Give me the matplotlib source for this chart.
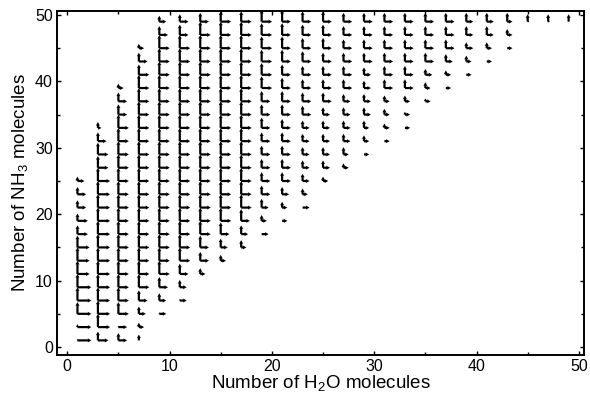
# grid of small L-shaped arm glyphs over cluster composition (H2O, NH3)

import numpy as np
import matplotlib.pyplot as plt
from matplotlib.ticker import MultipleLocator

plt.rcParams['font.family'] = ['Liberation Sans', 'DejaVu Sans']
plt.rcParams['mathtext.fontset'] = 'custom'
plt.rcParams['mathtext.rm'] = 'Liberation Sans'

# number of H2O molecules for each column of glyphs
n_h2o = [1, 3, 5, 7, 9, 11, 13, 15, 17, 19, 21, 23, 25,
         27, 29, 31, 33, 35, 37, 39, 41, 43, 45, 47, 49]
# lowest number of NH3 molecules present in each column
n_nh3_low = [1, 1, 1, 1, 5, 7, 11, 13, 15, 17, 19, 21, 25,
             27, 29, 31, 33, 37, 39, 41, 43, 45, 49, 49, 49]

# arm lengths, one digit per glyph (NH3 = low, low+2, ...)
vert_arm = [
    "1289999865553",
    "69999999999998864",
    "518" + "9" * 14 + "763",
    "4357" + "9" * 16 + "763",
    "157" + "9" * 18 + "64",
    "157" + "9" * 17 + "75",
    "468" + "9" * 16 + "6",
    "468" + "9" * 15 + "7",
    "568" + "9" * 14 + "7",
    "04666666777888888",
    "0456666677778888",
    "045555566667777",
    "3555556666777",
    "355555666666",
    "04555556666",
    "0344666666",
    "024666666",
    "2446666",
    "035666",
    "04466",
    "0466",
    "046",
    "5",
    "5",
    "5",
]
horiz_arm = [
    "8888877766554",
    "67777777777776652",
    "556" + "6" * 14 + "553",
    "0345" + "6" * 16 + "653",
    "445" + "6" * 18 + "54",
    "445" + "6" * 17 + "55",
    "355" + "6" * 16 + "5",
    "345" + "6" * 15 + "6",
    "345" + "6" * 15,
    "43455555555666666",
    "334" + "5" * 13,
    "4344444" + "5" * 8,
    "344444" + "5" * 7,
    "334444555555",
    "33344445555",
    "3333555555",
    "333555555",
    "3345555",
    "334555",
    "33444",
    "3344",
    "333",
    "1",
    "1",
    "0",
]

hx, hy, hu = [], [], []
vx, vy, vv = [], [], []
for x, y0, vcol, hcol in zip(n_h2o, n_nh3_low, vert_arm, horiz_arm):
    for k in range(len(vcol)):
        y = y0 + 2 * k
        h = int(hcol[k]) * 0.17
        v = int(vcol[k]) * 0.22
        if h > 0:
            hx.append(x); hy.append(y); hu.append(h)
        if v > 0:
            vx.append(x); vy.append(y); vv.append(v)

hx = np.array(hx); hy = np.array(hy); hu = np.array(hu)
vx = np.array(vx); vy = np.array(vy); vv = np.array(vv)

fig = plt.figure(figsize=(5.9, 3.93), dpi=100)
ax = fig.add_axes([0.0966, 0.0967, 0.8932, 0.8753])

qkw = dict(angles='xy', scale_units='xy', scale=1, units='dots', width=2.2,
           headwidth=1.9, headlength=1.7, headaxislength=1.5, color='black',
           minlength=0.3, pivot='tail')
ax.quiver(hx, hy, hu, np.zeros_like(hu), **qkw)
ax.quiver(vx, vy, np.zeros_like(vv), vv, **qkw)

ax.set_xlim(-1, 50.5)
ax.set_ylim(-1.2, 50.6)
ax.xaxis.set_major_locator(MultipleLocator(10))
ax.yaxis.set_major_locator(MultipleLocator(10))
ax.xaxis.set_minor_locator(MultipleLocator(5))
ax.yaxis.set_minor_locator(MultipleLocator(5))
ax.tick_params(which='both', direction='in', top=True, right=True,
               labelsize=11.5, colors='black', width=1, pad=3)
ax.tick_params(which='major', length=3)
ax.tick_params(which='minor', length=2)
for s in ax.spines.values():
    s.set_linewidth(1.4)

ax.set_xlabel('Number of H$_2$O molecules', fontsize=13.5, labelpad=0)
ax.set_ylabel('Number of NH$_3$ molecules', fontsize=13.5, labelpad=3)

plt.savefig('out.png', dpi=100)
